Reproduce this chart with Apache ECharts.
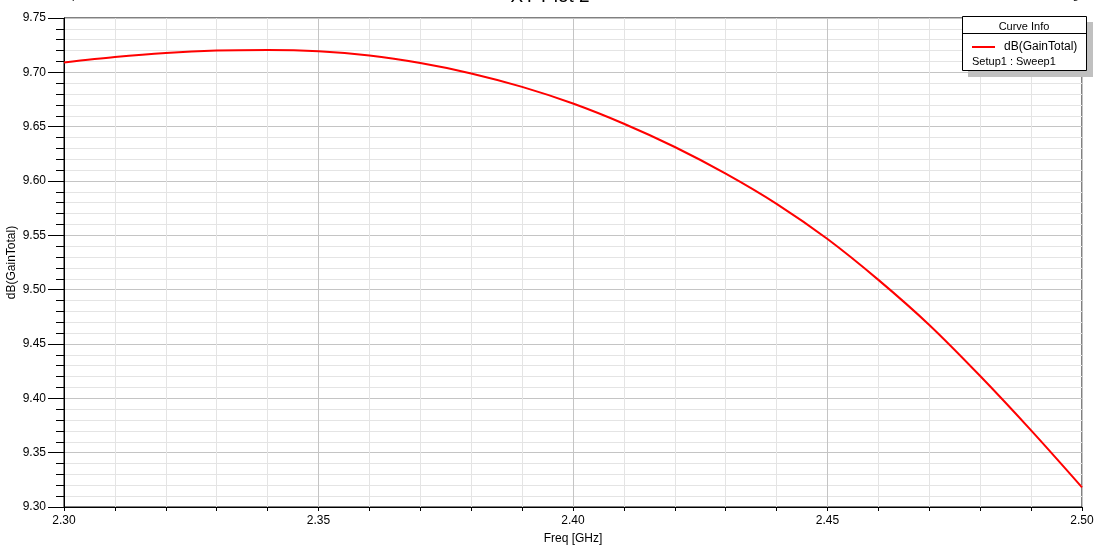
<!DOCTYPE html>
<html>
<head>
<meta charset="utf-8">
<script src="https://cdn.jsdelivr.net/npm/echarts@6/dist/echarts.min.js"></script>
<style>
html,body{margin:0;padding:0;background:#fff;}
#chart{width:1106px;height:547px;}
</style>
</head>
<body>
<div id="chart"></div>
<script>
// Data
const freq = [2.30, 2.31, 2.32, 2.33, 2.34, 2.35, 2.36, 2.37, 2.38, 2.39, 2.40,
              2.41, 2.42, 2.43, 2.44, 2.45, 2.46, 2.47, 2.48, 2.49, 2.50];
const gainTotal = [9.7090, 9.7140, 9.7178, 9.7200, 9.7205, 9.7193, 9.7154, 9.7085, 9.6990, 9.6866, 9.6713,
                   9.6527, 9.6313, 9.6068, 9.5790, 9.5466, 9.5090, 9.4675, 9.4205, 9.3705, 9.3181];
const seriesName = 'dB(GainTotal)';
const xName = 'Freq [GHz]';
const yName = 'dB(GainTotal)';
const titleText = 'XY Plot 2';
const leftCorner = 'Ansoft Corporation';
const rightCorner = 'HFSSDesign1';
const legendHeader = 'Curve Info';
const legendSetup = 'Setup1 : Sweep1';

const FONT = '"Liberation Sans", Arial, sans-serif';
const chart = echarts.init(document.getElementById('chart'), null, {renderer: 'canvas'});

const option = {
  animation: false,
  backgroundColor: '#ffffff',
  textStyle: {fontFamily: FONT},
  grid: {left: 64, right: 24, top: 18, bottom: 40, containLabel: false, outerBoundsMode: 'none',
         show: true, borderColor: '#000', borderWidth: 1, backgroundColor: 'transparent'},
  xAxis: {
    type: 'value', min: 2.30, max: 2.50, interval: 0.05,
    name: xName, nameLocation: 'middle', nameGap: 26, nameMoveOverlap: false,
    nameTextStyle: {color: '#000', fontSize: 12, fontFamily: FONT},
    axisLine: {show: true, lineStyle: {color: '#000', width: 1}},
    axisTick: {show: true, length: 4, lineStyle: {color: '#000'}},
    minorTick: {show: true, splitNumber: 5, length: 4, lineStyle: {color: '#000'}},
    splitLine: {show: true, lineStyle: {color: '#c4c4c4', width: 1}},
    minorSplitLine: {show: true, lineStyle: {color: '#e4e4e4', width: 1}},
    axisLabel: {color: '#000', fontSize: 12, fontFamily: FONT, margin: 8,
                formatter: v => v.toFixed(2)}
  },
  yAxis: {
    type: 'value', min: 9.30, max: 9.75, interval: 0.05,
    name: yName, nameLocation: 'middle', nameGap: 46, nameMoveOverlap: false,
    nameTextStyle: {color: '#000', fontSize: 12, fontFamily: FONT},
    axisLine: {show: true, lineStyle: {color: '#000', width: 1}},
    axisTick: {show: true, length: 16, lineStyle: {color: '#000'}},
    minorTick: {show: true, splitNumber: 5, length: 8, lineStyle: {color: '#000'}},
    splitLine: {show: true, lineStyle: {color: '#c4c4c4', width: 1}},
    minorSplitLine: {show: true, lineStyle: {color: '#e4e4e4', width: 1}},
    axisLabel: {color: '#000', fontSize: 12, fontFamily: FONT, margin: 18,
                formatter: v => v.toFixed(2)}
  },
  legend: {
    show: true, left: 972, top: 41, orient: 'vertical',
    itemWidth: 23, itemHeight: 2, itemGap: 4, icon: 'rect',
    textStyle: {color: '#000', fontSize: 12, fontFamily: FONT, padding: [0, 0, 0, 4]},
    data: [seriesName], z: 110, padding: 0
  },
  series: [{
    name: seriesName, type: 'line', showSymbol: false, symbol: 'none',
    smooth: 0.3,
    data: freq.map((f, i) => [f, gainTotal[i]]),
    lineStyle: {color: '#ff0000', width: 2},
    itemStyle: {color: '#ff0000'},
    z: 5
  }],
  graphic: [
    {type: 'text', z: 100, x: 550, y: -3,
     style: {text: titleText, fill: '#000', font: '19px ' + FONT, align: 'center', verticalAlign: 'middle'}},
    {type: 'text', z: 100, x: 20, y: -4,
     style: {text: leftCorner, fill: '#000', font: '11px ' + FONT, align: 'left', verticalAlign: 'middle'}},
    {type: 'text', z: 100, x: 1091, y: -4,
     style: {text: rightCorner, fill: '#000', font: '11px ' + FONT, align: 'right', verticalAlign: 'middle'}},
    {type: 'rect', z: 100, shape: {x: 968, y: 22, width: 125, height: 55},
     style: {fill: '#c0c0c0', stroke: null}},
    {type: 'rect', z: 101, shape: {x: 962.5, y: 16.5, width: 124, height: 54},
     style: {fill: '#ffffff', stroke: '#000', lineWidth: 1}},
    {type: 'line', z: 102, shape: {x1: 962.5, y1: 33.5, x2: 1086.5, y2: 33.5},
     style: {stroke: '#000', lineWidth: 1}},
    {type: 'text', z: 102, x: 1024, y: 26.5,
     style: {text: legendHeader, fill: '#000', font: '11px ' + FONT, align: 'center', verticalAlign: 'middle'}},
    {type: 'text', z: 102, x: 972, y: 62,
     style: {text: legendSetup, fill: '#000', font: '11px ' + FONT, align: 'left', verticalAlign: 'middle'}}
  ]
};
chart.setOption(option);
</script>
</body>
</html>
